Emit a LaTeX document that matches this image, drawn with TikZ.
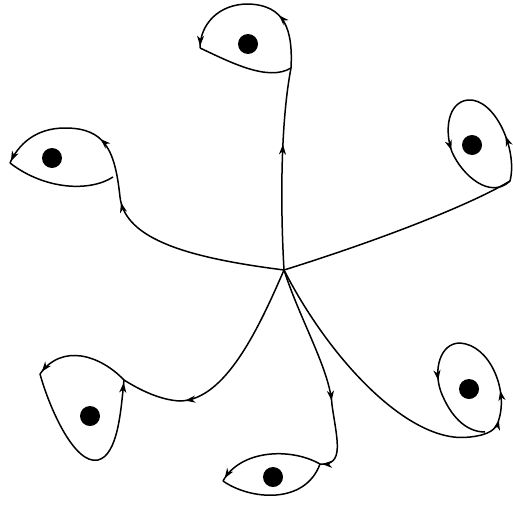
\documentclass[tikz,border=0pt]{standalone}
\usetikzlibrary{arrows.meta,decorations.markings}

\begin{document}
\begin{tikzpicture}[
    x=1pt, y=-1pt,
    line width=1.5pt,
    dot/.style={circle, fill=black, inner sep=0pt, minimum width=18pt, minimum height=20pt},
    arr/.style={postaction={decorate, decoration={markings,
        mark=at position #1 with {\arrow{Stealth[length=10pt, width=7pt, inset=3pt]}}}}},
    arr/.default=0.5
]
\useasboundingbox (0,0) rectangle (513,506);
\coordinate (c) at (284,270);
% ends of the branches
\coordinate (jt) at (291,68);
\coordinate (jul) at (120,197);
\coordinate (jr) at (510,181);
\coordinate (jll) at (124,380);
\coordinate (jb) at (320,464);
\coordinate (jlr) at (499,419);
% the dots
\node[dot] (pt) at (248,44) {};
\node[dot] (pul) at (52,158) {};
\node[dot] (pr) at (472,145) {};
\node[dot] (pll) at (90,416) {};
\node[dot] (pb) at (273,477) {};
\node[dot] (plr) at (469,389) {};

% top
\draw[arr=0.62] (c) .. controls (280,200) and (281,120) .. (jt);
\draw[arr=0.62] (jt) .. controls (293,30) and (285,5) .. (248,4);
\draw[arr=0.97] (248,4) .. controls (218,4) and (200,25) .. (200,48);
\draw (200,48) .. controls (230,62) and (268,82) .. (jt);

% upper left
\draw[arr=0.97] (c) .. controls (190,258) and (125,240) .. (jul);
\draw[arr=0.62] (jul) .. controls (115,150) and (105,128) .. (65,128);
\draw[arr=0.97] (65,128) .. controls (35,128) and (18,145) .. (10,163);
\draw (10,163) .. controls (45,190) and (90,192) .. (113,177);

% right
\draw (c) .. controls (380,240) and (470,205) .. (jr);
\draw[arr=0.45] (jr) .. controls (518,150) and (495,98) .. (468,100);
\draw[arr=0.97] (468,100) .. controls (448,102) and (444,130) .. (452,152);
\draw (452,152) .. controls (462,175) and (490,200) .. (jr);

% lower left
\draw[arr=0.97] (c) .. controls (258,330) and (225,400) .. (180,401);
\draw (180,401) .. controls (160,400) and (140,390) .. (jll);
\draw[arr=0.97] (jll) .. controls (100,355) and (62,343) .. (40,374);
\draw (40,374) .. controls (50,410) and (75,465) .. (98,460);
\draw[arr=0.97] (98,460) .. controls (118,455) and (121,410) .. (jll);

% bottom
\draw[arr=0.97] (c) .. controls (300,320) and (330,370) .. (332,405);
\draw[arr=0.97] (332,405) .. controls (337,440) and (345,466) .. (jb);
\draw[arr=0.97] (jb) .. controls (290,447) and (240,450) .. (223,481);
\draw (223,481) .. controls (250,500) and (305,505) .. (jb);

% lower right
\draw (c) .. controls (330,360) and (410,445) .. (470,437);
\draw[arr=0.97] (470,437) .. controls (488,435) and (497,430) .. (jlr);
\draw[arr=0.3] (jlr) .. controls (508,390) and (490,345) .. (460,343);
\draw[arr=0.8] (460,343) .. controls (440,343) and (433,370) .. (441,392);
\draw (441,392) .. controls (450,415) and (465,432) .. (485,432);
\end{tikzpicture}
\end{document}
